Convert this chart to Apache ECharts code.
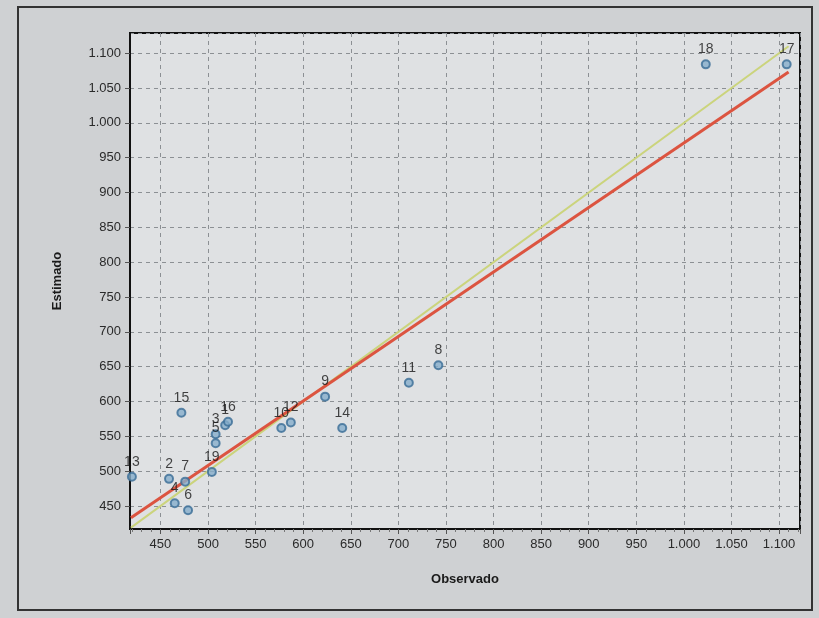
<!DOCTYPE html>
<html>
<head>
<meta charset="utf-8">
<script src="https://cdn.jsdelivr.net/npm/echarts@6/dist/echarts.min.js"></script>
<style>
  * { margin: 0; padding: 0; }
  body { background: #cfd1d3; }
  #mychart { width: 819px; height: 618px; }
</style>
</head>
<body>
<div id="mychart"></div>
<script>
// numero de cada ponto
const pointIds = ['1','2','3','4','5','6','7','8','9','10','11','12','13','14','15','16','17','18','19'];
// valores observados (eixo x)
const observado = [518, 459, 508, 465, 508, 479, 476, 742, 623, 577, 711, 587, 420, 641, 472, 521, 1108, 1023, 504];
// valores estimados (eixo y)
const estimado = [566, 489, 553, 454, 540, 444, 485, 652, 607, 562, 627, 570, 492, 562, 584, 571, 1084, 1084, 499];
// linha 1:1 (verde) e reta ajustada (vermelha)
const lineX = [419, 1110];
const identityY = [419, 1110];
const fitY = [433, 1073];

// formato pt-BR: 1.000, 1.050 ...
function fmt(v) {
  if (v % 50 !== 0) return '';
  if (v >= 1000) {
    const r = String(v % 1000).padStart(3, '0');
    return Math.floor(v / 1000) + '.' + r;
  }
  return String(v);
}

const gridLine = { show: true, lineStyle: { color: '#8c9094', type: [4, 4], width: 1 } };

const option = {
  backgroundColor: '#cfd1d3',
  animation: false,
  textStyle: { fontFamily: 'Liberation Sans, Arial, sans-serif' },
  grid: {
    left: 130, right: 19, top: 33, bottom: 89,
    show: true,
    backgroundColor: '#dfe1e3',
    borderColor: '#111',
    borderWidth: 2
  },
  xAxis: {
    type: 'value',
    min: 418, max: 1122,
    splitNumber: 14,
    name: 'Observado',
    nameLocation: 'middle',
    nameGap: 44,
    nameTextStyle: { fontWeight: 'bold', fontSize: 13, color: '#1a1a1a' },
    axisLine: { lineStyle: { color: '#111', width: 2 } },
    axisTick: { show: true, length: 5, lineStyle: { color: '#555' } },
    minorTick: { show: true, splitNumber: 5, length: 3, lineStyle: { color: '#777' } },
    axisLabel: { formatter: fmt, color: '#2a2a2a', fontSize: 13, margin: 9, showMinLabel: false, showMaxLabel: false },
    splitLine: gridLine
  },
  yAxis: {
    type: 'value',
    min: 417, max: 1129,
    splitNumber: 14,
    name: 'Estimado',
    nameLocation: 'middle',
    nameGap: 66,
    nameTextStyle: { fontWeight: 'bold', fontSize: 13, color: '#1a1a1a' },
    axisLine: { show: true, lineStyle: { color: '#111', width: 2 } },
    axisTick: { show: true, length: 5, lineStyle: { color: '#555' } },
    axisLabel: { formatter: fmt, color: '#2a2a2a', fontSize: 13, margin: 9, showMinLabel: false, showMaxLabel: false },
    splitLine: gridLine
  },
  series: [
    {
      type: 'line',
      data: lineX.map((x, i) => [x, identityY[i]]),
      symbol: 'none',
      lineStyle: { color: '#cbd47c', width: 2 },
      z: 2
    },
    {
      type: 'line',
      data: lineX.map((x, i) => [x, fitY[i]]),
      symbol: 'none',
      lineStyle: { color: '#dc5440', width: 3 },
      z: 3
    },
    {
      type: 'scatter',
      data: observado.map((x, i) => ({ value: [x, estimado[i]], name: pointIds[i] })),
      symbol: 'circle',
      symbolSize: 8,
      itemStyle: { color: '#86aecb', borderColor: '#3a6d96', borderWidth: 2 },
      label: {
        show: true,
        position: 'top',
        distance: 3,
        formatter: p => p.name,
        color: '#161616',
        fontSize: 14
      },
      z: 4
    }
  ],
  graphic: [
    {
      type: 'rect',
      shape: { x: 18, y: 7, width: 794, height: 603 },
      style: { fill: 'none', stroke: '#333', lineWidth: 2 },
      z: -1
    }
  ]
};

const myChart = echarts.init(document.getElementById('mychart'));
myChart.setOption(option);
</script>
</body>
</html>
